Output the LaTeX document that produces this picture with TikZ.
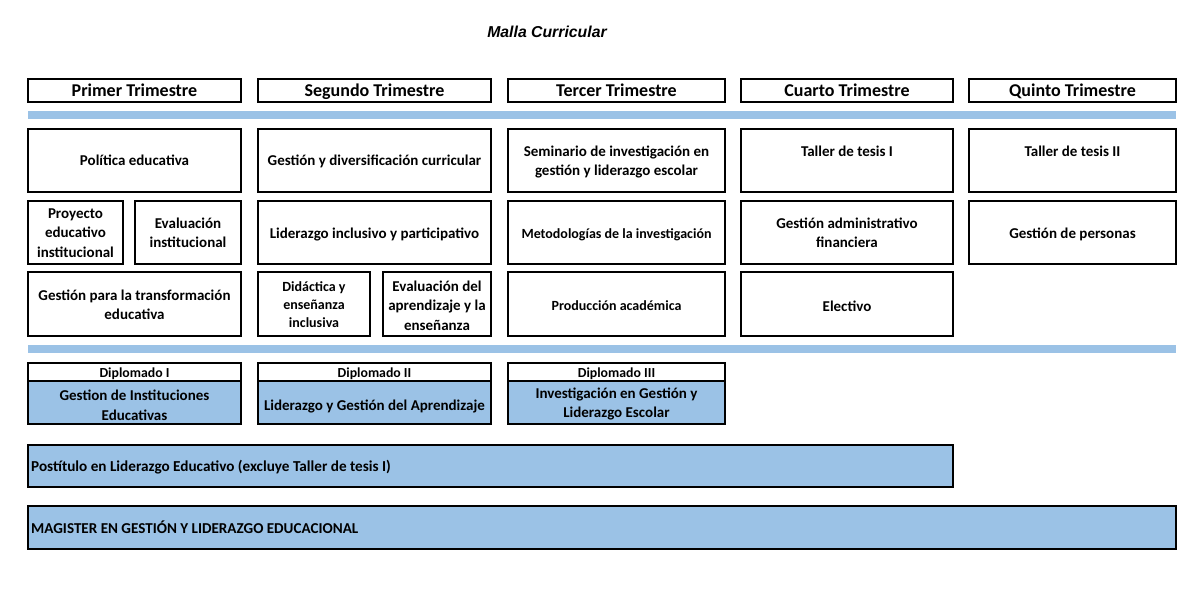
\documentclass[tikz,border=0pt]{standalone}
\usepackage{fontspec}
\setmainfont{Carlito}
\newfontfamily\titlefont{Liberation Sans}
\definecolor{lblue}{RGB}{155,194,230}
\tikzset{
 cell/.style={draw=black, line width=1.7pt, anchor=north west, inner sep=0pt, outer sep=0pt},
 bluecell/.style={cell, fill=lblue},
 bar/.style={fill=lblue, draw=none, anchor=north west, inner sep=0pt, outer sep=0pt, minimum width=1148pt, minimum height=8pt},
 hdr/.style={font=\bfseries\fontsize{18}{20}\selectfont, inner sep=0pt, anchor=base},
 txt/.style={font=\bfseries\fontsize{15}{19.5}\selectfont, align=center, inner sep=0pt},
 one/.style={txt, anchor=base},
 midtxt/.style={font=\bfseries\fontsize{14}{18}\selectfont, align=center, inner sep=0pt},
 dtxt/.style={font=\bfseries\fontsize{13.8}{16}\selectfont, inner sep=0pt, anchor=base},
 wA/.style={minimum width=213pt}, wB/.style={minimum width=233pt}, wC/.style={minimum width=217pt},
 wD/.style={minimum width=212pt}, wE/.style={minimum width=207pt},
}
\begin{document}
\begin{tikzpicture}[x=1pt,y=-1pt]
\useasboundingbox (0,0) rectangle (1200,599);
% title
\node[font=\titlefont\bfseries\itshape\fontsize{15.8}{18}\selectfont, inner sep=0pt] (title) at (547,32) {Malla Curricular};
% headers
\node[cell, wA, minimum height=23pt] (hA) at (28,79) {};
\node[cell, wB, minimum height=23pt] (hB) at (258,79) {};
\node[cell, wC, minimum height=23pt] (hC) at (508,79) {};
\node[cell, wD, minimum height=23pt] (hD) at (741,79) {};
\node[cell, wE, minimum height=23pt] (hE) at (969,79) {};
\node[hdr] (thA) at (134.5,97) {Primer Trimestre};
\node[hdr] (thB) at (374.5,97) {Segundo Trimestre};
\node[hdr] (thC) at (616.5,97) {Tercer Trimestre};
\node[hdr] (thD) at (847,97) {Cuarto Trimestre};
\node[hdr] (thE) at (1072.5,97) {Quinto Trimestre};
\node[bar] (bar1) at (28,111) {};
% row 1
\node[cell, wA, minimum height=63pt] (r1A) at (28,129) {};
\node[cell, wB, minimum height=63pt] (r1B) at (258,129) {};
\node[cell, wC, minimum height=63pt] (r1C) at (508,129) {};
\node[cell, wD, minimum height=63pt] (r1D) at (741,129) {};
\node[cell, wE, minimum height=63pt] (r1E) at (969,129) {};
\node[one] (t1A) at (134.5,166) {Política educativa};
\node[one] (t1B) at (374.5,166) {Gestión y diversificación curricular};
\node[txt] (t1C) at (616.5,162) {Seminario de investigación en\\gestión y liderazgo escolar};
\node[one] (t1D) at (847,157) {Taller de tesis I};
\node[one] (t1E) at (1072.5,157) {Taller de tesis II};
% row 2
\node[cell, minimum width=95pt, minimum height=63pt] (r2A1) at (28,201) {};
\node[cell, minimum width=106pt, minimum height=63pt] (r2A2) at (135,201) {};
\node[cell, wB, minimum height=63pt] (r2B) at (258,201) {};
\node[cell, wC, minimum height=63pt] (r2C) at (508,201) {};
\node[cell, wD, minimum height=63pt] (r2D) at (741,201) {};
\node[cell, wE, minimum height=63pt] (r2E) at (969,201) {};
\node[txt] (t2A1) at (75.5,233) {Proyecto\\educativo\\institucional};
\node[txt] (t2A2) at (188,233) {Evaluación\\institucional};
\node[one] (t2B) at (374.5,238) {Liderazgo inclusivo y participativo};
\node[midtxt, anchor=base] (t2C) at (616.5,238) {Metodologías de la investigación};
\node[txt] (t2D) at (847,233) {Gestión administrativo\\financiera};
\node[one] (t2E) at (1072.5,238) {Gestión de personas};
% row 3
\node[cell, wA, minimum height=64pt] (r3A) at (28,272) {};
\node[cell, minimum width=112pt, minimum height=64pt] (r3B1) at (258,272) {};
\node[cell, minimum width=108pt, minimum height=64pt] (r3B2) at (383,272) {};
\node[cell, wC, minimum height=64pt] (r3C) at (508,272) {};
\node[cell, wD, minimum height=64pt] (r3D) at (741,272) {};
\node[txt] (t3A) at (134.5,305) {Gestión para la transformación\\educativa};
\node[midtxt] (t3B1) at (314,305) {Didáctica y\\enseñanza\\inclusiva};
\node[txt] (t3B2) at (437,305.5) {Evaluación del\\aprendizaje y la\\enseñanza};
\node[midtxt, anchor=base] (t3C) at (616.5,310) {Producción académica};
\node[one] (t3D) at (847,311) {Electivo};
\node[bar] (bar2) at (28,345) {};
% diplomados
\node[cell, wA, minimum height=18pt] (dhA) at (28,363) {};
\node[cell, wB, minimum height=18pt] (dhB) at (258,363) {};
\node[cell, wC, minimum height=18pt] (dhC) at (508,363) {};
\node[bluecell, wA, minimum height=43pt] (dA) at (28,381) {};
\node[bluecell, wB, minimum height=43pt] (dB) at (258,381) {};
\node[bluecell, wC, minimum height=43pt] (dC) at (508,381) {};
\node[dtxt] (tdhA) at (134.5,377.5) {Diplomado I};
\node[dtxt] (tdhB) at (374.5,377.5) {Diplomado II};
\node[dtxt] (tdhC) at (616.5,377.5) {Diplomado III};
\node[txt] (tdA) at (134.5,405.5) {Gestion de Instituciones\\Educativas};
\node[one] (tdB) at (374.5,410) {Liderazgo y Gestión del Aprendizaje};
\node[txt] (tdC) at (616.5,404) {Investigación en Gestión y\\Liderazgo Escolar};
% postitulo & magister
\node[bluecell, minimum width=925pt, minimum height=42pt] (post) at (28,445) {};
\node[anchor=base west, inner sep=0pt, font=\bfseries\fontsize{15.2}{17}\selectfont] (tpost) at (31,471) {Postítulo en Liderazgo Educativo (excluye Taller de tesis I)};
\node[bluecell, minimum width=1148pt, minimum height=43pt] (mag) at (28,506) {};
\node[anchor=base west, inner sep=0pt, font=\bfseries\fontsize{15.1}{17}\selectfont] (tmag) at (31,533) {MAGISTER EN GESTIÓN Y LIDERAZGO EDUCACIONAL};
\end{tikzpicture}
\end{document}
